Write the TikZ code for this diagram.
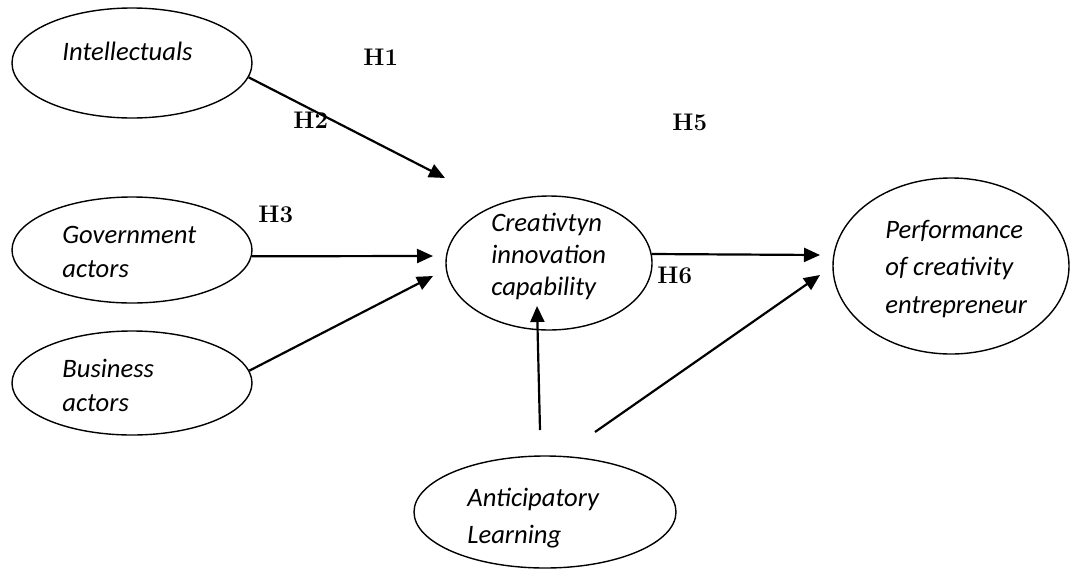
\documentclass[tikz,border=0pt]{standalone}
\usepackage{fontspec}
\newfontfamily\carlito{Carlito}
\usetikzlibrary{shapes.geometric,arrows.meta}
\begin{document}
\begin{tikzpicture}[x=0.5pt, y=-0.5pt,
    ell/.style={draw, ellipse, line width=0.7pt, inner sep=0pt},
    txt/.style={anchor=base west, align=left, inner sep=0pt,
        font=\carlito\itshape\fontsize{13.3}{#1}\selectfont},
    txt/.default=16.5,
    hyp/.style={anchor=base west, inner sep=0pt, font=\bfseries\fontsize{12}{14}\selectfont},
    arr/.style={-{Triangle[length=8pt,width=7pt]}, line width=1.1pt}]

\useasboundingbox (0,0) rectangle (1070,568);

% Construits
\node[ell, minimum width=120pt, minimum height=55pt] (intel) at (132,63) {};
\node[ell, minimum width=120pt, minimum height=53pt] (gov) at (132,250) {};
\node[ell, minimum width=120pt, minimum height=52pt] (bus) at (132,383) {};
\node[ell, minimum width=103pt, minimum height=67pt] (cre) at (549,263) {};
\node[ell, minimum width=118pt, minimum height=88pt] (perf) at (951,266) {};
\node[ell, minimum width=131pt, minimum height=56pt] (antic) at (545,512) {};

% Textes (base = ligne du bas)
\node[txt] (intel-t) at (62,60) {Intellectuals};
\node[txt=17] (gov-t) at (62,277) {Government\\actors};
\node[txt=17] (bus-t) at (62,411) {Business\\actors};
\node[txt=16] (cre-t) at (491,295) {Creativtyn\\innovation\\capability};
\node[txt=18.75] (perf-t) at (885,313) {Performance\\of creativity\\entrepreneur};
\node[txt=18.5] (antic-t) at (467,543) {Anticipatory\\Learning};

% Hypotheses
\node[hyp] (h1) at (363,65) {H1};
\node[hyp] (h2) at (293,128) {H2};
\node[hyp] (h3) at (258,222) {H3};
\node[hyp] (h5) at (672,130) {H5};
\node[hyp] (h6) at (657,283) {H6};

% Extremites des fleches
\coordinate (cre-in-intel) at (445,178);
\coordinate (cre-in-gov) at (433,256);
\coordinate (cre-in-bus) at (433,276);
\coordinate (perf-in-cre) at (820,255);
\coordinate (antic-out1) at (540,430);
\coordinate (cre-in-antic) at (537,306);
\coordinate (antic-out2) at (595,432);
\coordinate (perf-in-antic) at (820,275);

% Fleches
\draw[arr] (intel.-7) -- (cre-in-intel);
\draw[arr] (gov.-3) -- (cre-in-gov);
\draw[arr] (bus.6) -- (cre-in-bus);
\draw[arr] (cre.5) -- (perf-in-cre);
\draw[arr] (antic-out1) -- (cre-in-antic);
\draw[arr] (antic-out2) -- (perf-in-antic);

\end{tikzpicture}
\end{document}
